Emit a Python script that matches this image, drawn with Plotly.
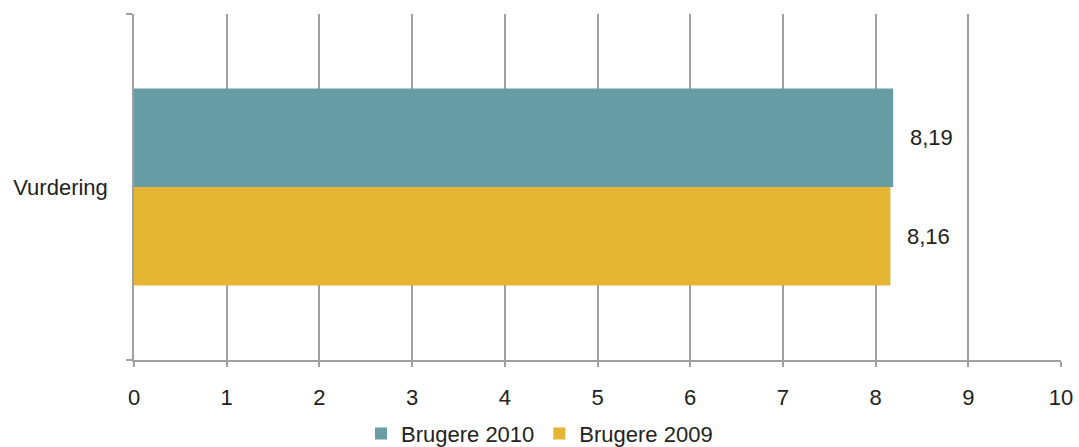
import plotly.graph_objects as go

categories = ["Vurdering"]
series_names = ["Brugere 2010", "Brugere 2009"]
values_2010 = [8.19]
values_2009 = [8.16]
x_ticks = list(range(0, 11))

colors = {"Brugere 2010": "#699da6", "Brugere 2009": "#e4b633"}
font_family = "Liberation Sans, Arial, sans-serif"
text_color = "#222"
grid_color = "#a0a0a0"
bar_gap = 0.43

fig = go.Figure()
for name, vals in zip(series_names, [values_2010, values_2009]):
    fig.add_trace(go.Bar(
        y=categories, x=vals, name=name, orientation="h",
        marker=dict(color=colors[name], line=dict(width=0)),
    ))

# value labels beside the end of each bar, centred on the bar's slot
half = (1 - bar_gap) / 4
offsets = {"Brugere 2010": -half, "Brugere 2009": half}
for name, vals in zip(series_names, [values_2010, values_2009]):
    for i, v in enumerate(vals):
        fig.add_annotation(
            x=v, y=i + offsets[name], xref="x", yref="y",
            text=f"{v:.2f}".replace(".", ","),
            showarrow=False, xanchor="left", xshift=15,
            font=dict(size=22, color=text_color, family=font_family),
        )

fig.update_layout(
    width=1079, height=447,
    margin=dict(l=134, r=18, t=14, b=87),
    paper_bgcolor="white", plot_bgcolor="white",
    barmode="group", bargap=bar_gap, bargroupgap=0,
    font=dict(family=font_family, size=22, color=text_color),
    showlegend=True,
    legend=dict(
        orientation="h", xref="container", yref="container",
        x=0.5, y=0.03, xanchor="center", yanchor="middle",
        font=dict(size=22, color=text_color), itemwidth=30,
    ),
    xaxis=dict(
        range=[0, 10], tickvals=x_ticks, ticktext=[str(t) for t in x_ticks],
        showgrid=True, gridcolor=grid_color, gridwidth=1.5,
        showline=True, linecolor=grid_color, linewidth=1.5,
        ticks="outside", ticklen=5, tickcolor=grid_color, tickwidth=1.5,
        ticklabelstandoff=12, zeroline=False, fixedrange=True,
        automargin=False,
    ),
    yaxis=dict(
        type="category", autorange="reversed",
        showline=True, linecolor=grid_color, linewidth=1.5,
        ticks="outside", tickson="boundaries", ticklen=6,
        tickcolor=grid_color, tickwidth=1.5, showgrid=False,
        ticklabelstandoff=20, automargin=False,
    ),
)

fig.write_html("out.html")
